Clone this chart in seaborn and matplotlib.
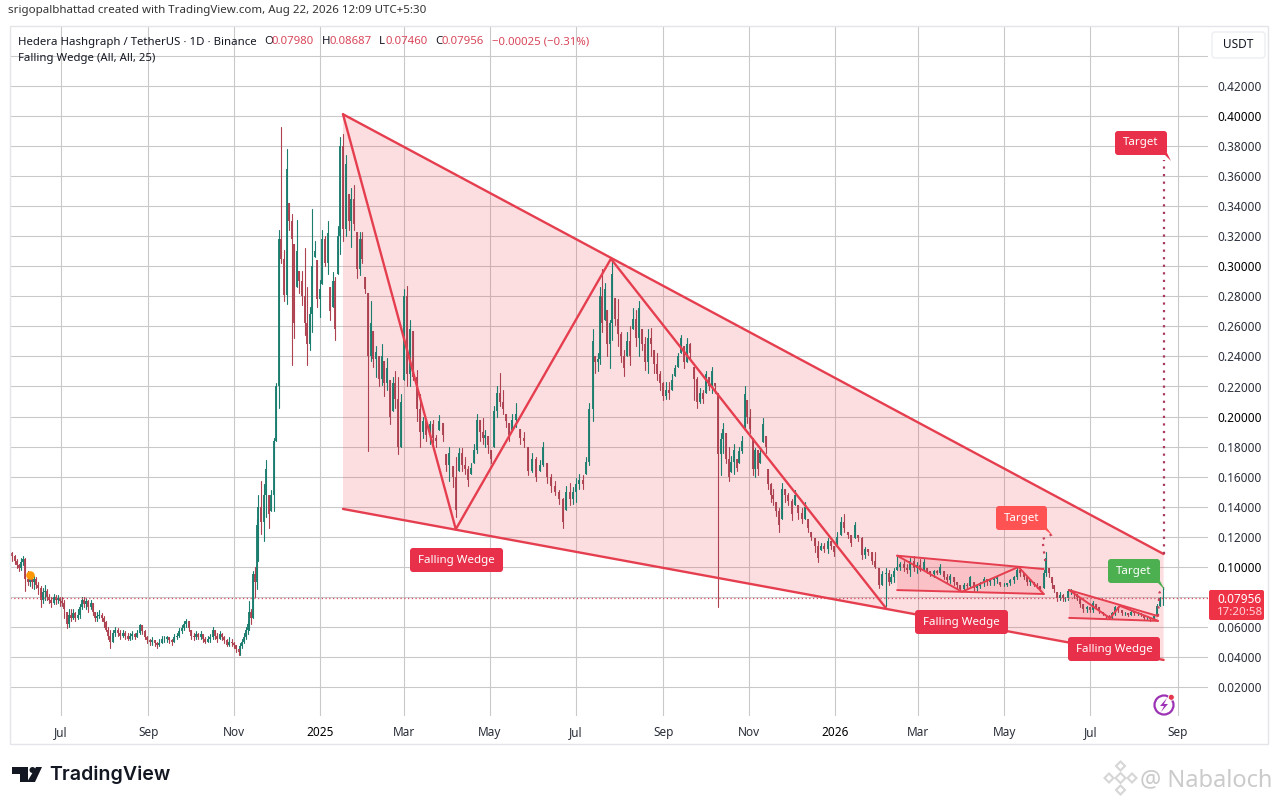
import numpy as np
import pandas as pd
import seaborn as sns
import matplotlib
matplotlib.use('Agg')
import matplotlib.pyplot as plt
import matplotlib.dates as mdates
from matplotlib.patches import FancyBboxPatch, Polygon, Circle, Rectangle

# candles as (close, high, low), in thousandths of USDT, one list per stretch of dates
may_jul24 = [(109,111,106),(107,110,104),(104,108,102),(101,105,99),(99,102,97),(103,106,98),(105,107,101),(92,106,84),(90,97,88),(92,95,87),(90,93,86),(92,94,85),(88,93,86),(86,90,82),(78,87,73),(83,86,76),(84,88,78),(80,85,78),(78,82,76),(76,80,73),(80,82,75),(78,81,75),(79,81,76),(77,80,74),(76,80,74),(72,78,66)]
jul_aug24 = [(62,70,59),(68,72,60),(66,72,64),(69,72,65),(66,70,64),(68,72,65),(73,75,66),(78,80,72),(75,80,73),(77,79,72),(73,78,70),(76,78,72),(70,76,68),(66,70,64),(67,70,64),(68,71,66),(66,69,64),(63,67,60),(58,64,57),(54,60,52)]
aug_sep24 = [(50,58,46),(56,58,50),(58,60,54),(56,59,54),(54,58,52),(56,58,53),(54,57,52),(52,56,51),(54,56,51),(55,57,52),(53,56,52),(56,58,53),(61,62,55),(57,61,55),(53,58,52),(51,54,49),(50,52,48),(51,53,48),(49,51,47),(48,50,46),(49,52,47),(52,54,49),(52,54,50),(53,54,50),(51,53,49),(50,52,48),(53,55,50),(54,56,52),(57,59,53),(59,61,56),(62,64,58)]
sep_nov24 = [(64,65,60),(59,64,57),(54,58,52),(53,56,51),(55,57,52),(53,56,52),(55,57,52),(52,55,50),(50,53,49),(52,54,50),(53,55,50),(58,60,52),(54,58,52),(52,56,50),(55,57,52),(53,56,51),(51,54,49),(48,52,47),(50,53,47),(49,52,47),(48,50,46),(45,48,43)]
nov24_rise = [(43,46,41),(47,49,41),(50,52,46),(53,56,49),(58,60,52),(62,64,55),(70,77,58),(66,72,62),(95,97,66),(90,100,80),(128,132,85)]
nov24_jan25 = [(140,148,104),(130,157,122),(148,155,117),(165,171,133),(135,148,126),(148,151,137),(184,186,137),(220,222,184),(318,324,206),(305,393,302),(281,311,277),(365,378,275),(330,342,324),(318,335,234),(262,315,252),(310,331,286),(290,297,282),(280,297,274),(262,312,254),(248,286,234),(268,273,244),(300,338,256),(310,317,306),(278,304,273),(285,291,266),(318,324,288),(302,320,300),(322,330,295),(270,286,264),(290,296,273),(258,293,251),(320,327,295),(380,386,308)]
jan_mar25 = [(325,388,317),(368,374,320),(330,348,324),(345,352,313),(328,354,324),(298,323,292),(318,323,294),(305,323,302),(285,293,282),(240,282,177),(262,277,237),(238,257,233),(243,247,226),(225,240,220),(240,248,221),(222,237,214),(232,239,218),(200,224,195),(222,226,204),(212,230,206),(180,226,175),(210,215,180)]
mar_apr25 = [(280,285,224),(228,287,220),(258,264,220),(226,257,224),(205,231,197),(190,215,180),(197,200,186),(188,197,184),(195,197,182),(186,198,182),(184,188,180),(197,201,191),(188,196,184),(168,175,164),(176,180,157),(160,167,153)]
apr_may25 = [(138,173,133),(176,179,164),(168,179,164),(165,173,162),(158,167,154),(166,169,162),(178,182,169),(198,202,176),(190,198,184),(186,199,182),(188,191,180),(181,187,176),(172,178,169),(204,207,180),(216,220,200),(210,229,207),(205,218,202),(197,202,193),(188,196,184)]
may_jun25 = [(198,202,191),(202,209,193),(186,192,182),(184,190,180),(164,180,161),(172,176,163),(160,173,157),(168,171,164),(180,183,167),(160,169,156),(154,162,150),(150,157,148),(145,151,142)]
jun_jul25 = [(130,146,126),(150,154,138),(145,156,141),(150,153,142),(155,159,143),(158,162,152),(155,161,152),(170,173,162),(205,209,168)]
jul25_rise = [(250,258,197),(236,240,229),(238,242,230),(280,286,235),(262,298,256),(285,289,264),(248,271,240),(262,264,232)]
jul_sep25 = [(295,304,251),(265,279,261),(255,278,247),(240,256,236),(232,244,227),(250,256,240),(240,260,234),(265,272,258),(252,271,247),(272,277,240),(248,258,244),(236,253,231),(252,258,229),(248,259,240),(235,244,229),(228,242,224),(222,230,218),(214,223,211)]
sep_oct25 = [(218,223,212),(216,223,212),(224,228,218),(232,234,227),(240,242,233),(252,254,242),(236,247,232),(248,252,236),(242,249,238),(225,233,211),(210,226,206),(216,219,209),(212,218,209),(228,230,216),(220,226,218),(230,233,216),(220,222,216)]
oct25_crash = [(175,216,73),(185,189,161),(192,196,176),(172,189,169),(160,180,157),(170,174,163),(178,182,162),(166,172,164),(177,180,169),(184,187,176)]
oct_nov25 = [(215,220,191),(200,211,196),(192,205,189),(165,186,161),(178,179,160),(165,178,161),(176,180,169),(195,199,183),(180,187,176),(155,165,152),(148,156,143),(145,152,141),(137,143,134)]
nov25_jan26 = [(128,139,123),(152,156,132),(148,152,143),(144,149,141),(135,145,131),(148,151,141),(136,141,132),(132,139,129),(140,143,132),(126,132,123),(120,123,118),(114,119,110),(106,117,103),(114,116,111),(112,116,110),(117,119,109),(114,117,112),(110,114,107),(120,123,114)]
jan_feb26 = [(130,133,121),(126,135,123),(121,123,119),(116,121,114),(128,130,119),(119,121,117),(108,120,105),(112,113,106),(110,112,108),(104,110,102),(100,110,99),(88,99,86),(95,97,88)]
feb26 = [(96,99,74),(90,98,88),(93,95,89),(97,99,90)]
feb_may26 = [(100,107,98),(102,103,98),(99,104,97),(98,102,96),(104,106,94),(99,107,97),(101,103,96),(98,105,97),(103,105,98),(97,99,96),(95,97,94),(97,98,93),(96,98,95),(100,102,95),(93,97,92),(91,95,89),(94,95,89),(90,93,88),(88,90,86),(85,88,84),(88,89,84),(87,89,86),(93,94,86),(86,90,84),(87,88,84),(89,90,86),(92,93,87),(90,92,88),(91,92,88),(92,93,88),(93,94,89),(88,90,87),(88,89,87),(89,89,87),(91,92,88),(93,94,89),(98,99,92),(96,99,94),(93,96,92),(90,93,88),(91,92,88),(88,90,87),(87,89,86),(85,87,84)]
may_jun26 = [(96,98,86),(106,110,94),(96,99,93),(89,93,86),(85,88,83),(79,83,77),(81,83,78),(79,82,77),(79,80,77),(84,85,78)]
jun_aug26 = [(84,85,82),(82,84,79),(80,82,78),(75,79,73),(72,75,70),(73,74,70),(71,73,70),(76,77,70),(73,75,72),(71,73,69),(69,70,68),(67,68,66),(66,68,65),(69,70,65),(73,74,68),(71,74,70),(69,71,68),(69,70,68),(68,69,67),(70,71,68),(69,70,68),(69,70,68),(68,69,67),(66,68,65),(66,67,65),(65,66,64),(67,68,65),(74,75,68),(79,80,74),(79.56,86.87,74.6)]

spans = [
    ('2024-05-26', '2024-07-05', may_jul24), ('2024-07-05', '2024-08-05', jul_aug24),
    ('2024-08-05', '2024-09-28', aug_sep24), ('2024-09-28', '2024-11-04', sep_nov24),
    ('2024-11-04', '2024-11-18', nov24_rise), ('2024-11-18', '2025-01-17', nov24_jan25),
    ('2025-01-17', '2025-03-01', jan_mar25), ('2025-03-01', '2025-04-07', mar_apr25),
    ('2025-04-07', '2025-05-17', apr_may25), ('2025-05-17', '2025-06-22', may_jun25),
    ('2025-06-22', '2025-07-13', jun_jul25), ('2025-07-13', '2025-07-27', jul25_rise),
    ('2025-07-27', '2025-09-03', jul_sep25), ('2025-09-03', '2025-10-10', sep_oct25),
    ('2025-10-10', '2025-10-29', oct25_crash), ('2025-10-29', '2025-11-22', oct_nov25),
    ('2025-11-22', '2026-01-05', nov25_jan26), ('2026-01-05', '2026-02-06', jan_feb26),
    ('2026-02-06', '2026-02-14', feb26), ('2026-02-14', '2026-05-29', feb_may26),
    ('2026-05-29', '2026-06-17', may_jun26), ('2026-06-17', '2026-08-24', jun_aug26),
]

# pattern drawings: dates and prices
big_dates = ['2025-01-17', '2026-08-22', '2026-08-22', '2025-01-17']
big_prices = [0.4012, 0.1085, 0.0380, 0.1385]
zig_dates = ['2025-01-17', '2025-04-07', '2025-07-26', '2026-02-06']
zig_prices = [0.4012, 0.1250, 0.3050, 0.0726]
mid_dates = ['2026-02-14', '2026-05-29', '2026-05-29', '2026-02-14']
mid_prices = [0.1074, 0.0985, 0.0819, 0.0845]
mid_zig_dates = ['2026-02-14', '2026-04-01', '2026-05-11', '2026-05-29']
mid_zig_prices = [0.1074, 0.0834, 0.0999, 0.0819]
low_dates = ['2026-06-16', '2026-08-18', '2026-08-18', '2026-06-16']
low_prices = [0.0845, 0.0672, 0.0640, 0.0660]
low_zig_dates = ['2026-06-16', '2026-07-15', '2026-07-22', '2026-08-18']
low_zig_prices = [0.0845, 0.0658, 0.0740, 0.0640]
target_dates = ['2026-08-22', '2026-08-22']
target_prices = [0.1085, 0.3707]
target2_dates = ['2026-05-30', '2026-05-28', '2026-06-04']
target2_prices = [0.1038, 0.1184, 0.1217]
target3_dates = ['2026-08-18', '2026-08-19', '2026-08-22']
target3_prices = [0.0672, 0.0827, 0.0866]
last_price = 0.07956

price_ticks = [0.02, 0.04, 0.06, 0.08, 0.10, 0.12, 0.14, 0.16, 0.18, 0.20, 0.22, 0.24,
               0.26, 0.28, 0.30, 0.32, 0.34, 0.36, 0.38, 0.40, 0.42, 0.44]
month_dates = ['2024-07-01', '2024-09-01', '2024-11-01', '2025-01-01', '2025-03-01', '2025-05-01', '2025-07-01',
               '2025-09-01', '2025-11-01', '2026-01-01', '2026-03-01', '2026-05-01', '2026-07-01', '2026-09-01']
month_labels = ['Jul', 'Sep', 'Nov', '2025', 'Mar', 'May', 'Jul', 'Sep', 'Nov', '2026', 'Mar', 'May', 'Jul', 'Sep']

UP = '#1a7d6e'
DOWN = '#ad4150'
RED = '#e53e4f'

wicks, bodies = [], []
prev = may_jul24[0][0]
n = 0
for start, end, vals in spans:
    days = pd.date_range(start, end, periods=len(vals) + 1)[:-1]
    for d, (c, h, l) in zip(days, vals):
        o = min(max(prev, l), h)
        side = 'up' if c >= o else 'down'
        wicks += [(n, d, h / 1000, side), (n, d, l / 1000, side)]
        bodies += [(n, d, o / 1000, side), (n, d, c / 1000, side)]
        prev = c
        n += 1
wicks = pd.DataFrame(wicks, columns=['candle', 'date', 'price', 'side'])
bodies = pd.DataFrame(bodies, columns=['candle', 'date', 'price', 'side'])

sns.set_theme(style='whitegrid', rc={'grid.color': '#c9c9c9', 'grid.linewidth': 0.8})
plt.rcParams['font.family'] = ['Noto Sans', 'DejaVu Sans']

W, H = 1280, 805
fig = plt.figure(figsize=(W / 100, H / 100), dpi=100, facecolor='white')
ax = fig.add_axes([10 / W, 1 - 716 / H, 1198 / W, 690 / H], facecolor='none')

palette = {'up': UP, 'down': DOWN}
sns.lineplot(data=wicks, x='date', y='price', units='candle', hue='side', palette=palette, estimator=None,
             sort=False, lw=0.8, legend=False, ax=ax, zorder=3)
sns.lineplot(data=bodies, x='date', y='price', units='candle', hue='side', palette=palette, estimator=None,
             sort=False, lw=1.35, solid_capstyle='butt', legend=False, ax=ax, zorder=3)


def dn(dates):
    return mdates.date2num(pd.to_datetime(dates))


ax.fill(dn(big_dates), big_prices, color='#f23645', alpha=0.16, lw=0, zorder=2)
ax.fill(dn(mid_dates), mid_prices, color='#f23645', alpha=0.17, lw=0, zorder=2)
ax.fill(dn(low_dates), low_prices, color='#f23645', alpha=0.17, lw=0, zorder=2)

for i, j in [(0, 1), (3, 2)]:
    ax.plot(dn(big_dates)[[i, j]], np.array(big_prices)[[i, j]], color=RED, lw=1.7, zorder=4)
    ax.plot(dn(mid_dates)[[i, j]], np.array(mid_prices)[[i, j]], color=RED, lw=1.4, zorder=4)
    ax.plot(dn(low_dates)[[i, j]], np.array(low_prices)[[i, j]], color=RED, lw=1.4, zorder=4)
ax.plot(dn(zig_dates), zig_prices, color=RED, lw=1.7, zorder=4)
ax.plot(dn(mid_zig_dates), mid_zig_prices, color=RED, lw=1.4, zorder=4)
ax.plot(dn(low_zig_dates), low_zig_prices, color=RED, lw=1.4, zorder=4)

dots = (0, (1, 2.4))
ax.plot(dn(target_dates), target_prices, color='#a83a5c', lw=1.6, ls=dots, zorder=4)
ax.plot(dn(target2_dates), target2_prices, color='#c9405a', lw=1.6, ls=dots, zorder=4)
ax.plot(dn(target3_dates), target3_prices, color='#c9405a', lw=1.6, ls=dots, zorder=4)
ax.axhline(last_price, color='#d8485e', lw=0.9, ls=(0, (1, 2)), zorder=3)
ax.scatter(dn(['2024-06-09']), [0.0945], s=38, color='#ff9800', zorder=5, lw=0)

base = mdates.date2num(pd.Timestamp('2024-07-01'))
ax.set_xlim(base + (10 - 61) / 1.41, base + (1208 - 61) / 1.41)
ax.set_ylim(0.02 - 29 / 1502.5, 0.42 + 60 / 1502.5)
ax.yaxis.tick_right()
ax.set_yticks(price_ticks)
ax.set_yticklabels([f'{p:.5f}' if p < 0.43 else '' for p in price_ticks], fontsize=8.5, color='#2a2e39')
ax.set_xticks(dn(month_dates))
ax.set_xticklabels(month_labels, fontsize=8.5, color='#2a2e39')
ax.tick_params(axis='y', length=0, pad=6.5)
ax.tick_params(axis='x', length=0, pad=7)
for lab in ax.get_yticklabels():
    if lab.get_text() in ('0.40000', '0.30000', '0.20000', '0.10000'):
        lab.set_color('#000000')
        lab.set_fontweight('medium')
    if lab.get_text() == '0.08000':
        lab.set_visible(False)
for lab in ax.get_xticklabels():
    if lab.get_text() in ('2025', '2026'):
        lab.set_color('#000000')
        lab.set_fontweight('semibold')
ax.set_xlabel('')
ax.set_ylabel('')
for s in ax.spines.values():
    s.set_visible(False)

# page furniture in pixels on top of the chart
top = fig.add_axes([0, 0, 1, 1], facecolor='none', zorder=5)
top.set_xlim(0, W)
top.set_ylim(H, 0)
top.axis('off')

top.add_patch(Rectangle((10, 26), 1258, 718, fc='none', ec='#e3e5ea', lw=1))
top.text(8, 11, 'srigopalbhattad created with TradingView.com, Aug 22, 2026 12:09 UTC+5:30',
         fontsize=8.3, color='#333333', va='center')
top.text(18, 42, 'Hedera Hashgraph / TetherUS · 1D · Binance', fontsize=8.2, color='#131722', va='center')
top.text(18, 59, 'Falling Wedge (All, All, 25)', fontsize=8.2, color='#131722', va='center')
for x, s, c in [(264, 'O', '#131722'), (271, '0.07980', '#d9475a'), (322, 'H', '#131722'), (329, '0.08687', '#d9475a'),
                (379, 'L', '#131722'), (386, '0.07460', '#d9475a'), (435, 'C', '#131722'), (442, '0.07956', '#d9475a'),
                (492, '−0.00025 (−0.31%)', '#d9475a')]:
    top.text(x, 42, s, fontsize=8.2, color=c, va='center')


def box(x0, y0, x1, y1, color, text, fs=8.3):
    top.add_patch(FancyBboxPatch((x0 + 2, y0 + 2), x1 - x0 - 4, y1 - y0 - 4, boxstyle='round,pad=2,rounding_size=3',
                                 fc=color, ec='none'))
    top.text((x0 + x1) / 2, (y0 + y1) / 2, text, color='white', fontsize=fs, fontweight='medium', ha='center', va='center')


box(410, 548, 503, 572, '#e8304a', 'Falling Wedge')
box(915, 610, 1008, 634, '#e8304a', 'Falling Wedge')
box(1068, 637, 1160, 661, '#e8304a', 'Falling Wedge')
box(1115, 131, 1167, 155, '#e8304a', 'Target')
box(996, 506, 1047, 530, '#ff5252', 'Target')
box(1108, 559, 1160, 583, '#4caf50', 'Target')
top.add_patch(Polygon([(1163, 153), (1167, 153), (1171, 161)], fc='#e8304a', ec='none'))
top.add_patch(Polygon([(1043, 528), (1047, 528), (1053, 536)], fc='#ff5252', ec='none'))
top.add_patch(Polygon([(1156, 581), (1160, 581), (1165, 590)], fc='#4caf50', ec='none'))

# price badge and currency button
top.add_patch(FancyBboxPatch((1210, 591), 53, 28, boxstyle='round,pad=1,rounding_size=2', fc='#ef3347', ec='none'))
top.text(1217, 599, '0.07956', color='white', fontsize=8.5, va='center')
top.text(1217, 612, '17:20:58', color='#ffd3d8', fontsize=8.3, va='center')
top.add_patch(FancyBboxPatch((1213, 33), 51, 24, boxstyle='round,pad=1,rounding_size=3', fc='white', ec='#eceef2', lw=1))
top.text(1238, 45, 'USDT', color='#131722', fontsize=8.5, ha='center', va='center')

# purple lightning icon
top.add_patch(Circle((1164, 705), 9.5, fc='none', ec='#9c33b5', lw=1.6))
top.add_patch(Polygon([(1167, 698), (1160, 706), (1164, 706), (1161, 712), (1168, 704), (1164, 704)], fc='#9c33b5', ec='none'))
top.add_patch(Circle((1171.3, 697.3), 3, fc='#e5384d', ec='white', lw=0.6))

# TradingView logo
top.add_patch(Polygon([(12, 767), (28, 767), (28, 782), (20, 782), (20, 774), (12, 774)], fc='#131722', ec='none'))
top.add_patch(Circle((32.5, 770), 3, fc='#131722', ec='none'))
top.add_patch(Polygon([(36, 767), (42, 767), (35, 782), (27, 782)], fc='#131722', ec='none'))
top.text(49, 775, 'TradingView', fontsize=14.1, fontweight='semibold', family='Inter', color='#131722', va='center')

# watermark
for cx, cy, r in [(1120.5, 766, 4.5), (1120.5, 790, 4.5), (1109, 778, 4.5), (1132, 778, 4.5), (1120.5, 778, 5)]:
    top.add_patch(Polygon([(cx - r, cy), (cx, cy - r), (cx + r, cy), (cx, cy + r)], fc='none', ec='#d6d6d6', lw=1.5))
top.text(1140, 780, '@ Nabaloch', fontsize=17, color='#cbcbcb', va='center')

fig.savefig('out.png', dpi=100)
